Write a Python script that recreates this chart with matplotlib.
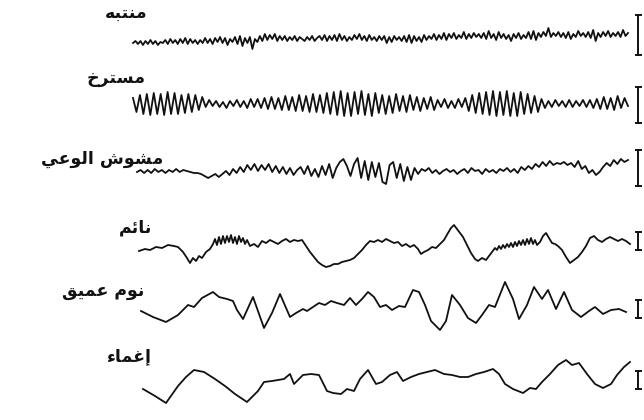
import numpy as np
import matplotlib
matplotlib.use('Agg')
import matplotlib.pyplot as plt

# EEG states, top to bottom
LABELS = ['منتبه', 'مسترخ', 'مشوش الوعي', 'نائم', 'نوم عميق', 'إغماء']

# alert: fast low-voltage activity
ALERT = [0, 2, -1, 2, -2, 2, -1, 3, -1, 2, -2, 1, 0, 3, -1, 4, 0, 3, -1, 4,
         0, 5, -1, 4, 0, 3, -1, 3, 0, 5, 0, 4, -1, 5, 1, 6, 0, 5, -2, 4,
         1, 6, -1, 7, -3, 5, 0, 6, -6, 4, 1, 7, 2, 9, 3, 8, 4, 9, 2, 7,
         3, 7, 2, 6, 3, 7, 2, 6, 4, 2, 6, 3, 7, 2, 5, 7, 3, 8, 2, 7,
         3, 8, 2, 9, 3, 7, 2, 6, 3, 8, 4, 9, 3, 7, 2, 8, 3, 6, 2, 7,
         3, 7, 0, 6, 1, 7, 3, 6, 2, 7, 1, 8, 0, 7, 2, 6, 1, 8, 3, 7,
         4, 9, 3, 8, 4, 10, 3, 9, 5, 10, 4, 8, 5, 11, 4, 9, 5, 10, 6, 9,
         5, 10, 4, 12, 5, 9, 3, 11, 5, 9, 4, 8, 2, 9, 5, 10, 4, 8, 5, 11,
         4, 12, 3, 10, 6, 11, 7, 15, 6, 10, 7, 11, 6, 10, 5, 11, 4, 9, 6, 12,
         7, 10, 6, 11, 5, 13, 2, 10, 6, 11, 7, 12, 6, 10, 7, 11, 6, 13, 7, 10]

# relaxed: alpha rhythm
RELAXED = [6, -8, 9, -10, 10, -11, 11, -10, 10, -11, 12, -10, 11, -10, 9, -9, 10, -8, 9, -6,
           7, -3, 4, -2,
           3, -3, 2, -4, 3, -2, 4, -3, 3, -4, 5, -3,
           5, -4, 6, -5, 7, -5, 6, -6, 8, -6, 7, -7, 9, -7, 8, -8, 10, -8, 9, -9,
           11, -10, 12, -11, 13, -12, 11, -12, 12, -10, 13, -11, 10, -12, 11, -9, 9, -10,
           8, -9, 10, -7, 8, -8, 9, -6, 7, -7, 6, -5, 7, -6,
           4, -3, 5, -4, 3, -4, 5, -3,
           6, -7, 9, -9, 11, -10, 12, -11, 13, -12, 12, -11, 13, -12, 11, -12, 12, -10, 10, -9, 8, -8,
           5, -4, 3, -3, 4, -2, 3, -3, 4, -3, 3, -2, 4, -3,
           4, -4, 5, -5, 7, -5, 6, -6, 8, -4, 6, -2]

# drowsy
DROWSY = [0, 2, -1, 2, -1, 3, 0, 2, -1, 2, 0, 3, 0, 2, 1,
          0, -1, -1, -2, -4, -6,
          -4, -2, -5, -2,
          1, -3, 3, -1, 5, 0, 7, 2, 8, 1,
          7, 2, 8, 0, 6, -1, 5, -2, 4, -3, 2,
          5, -2, 6, -4, 3, -5, 6, -3, 8, -6, 4,
          10, 13, 6, -4, 8, 14, -6, 11, -8, 10, -5, 9, -10,
          -12, 7, 10, -6, 8, -9, 5, -8, 4, -2,
          3, 1, 4, -1, 2, -2, 1, 3, 0, 2, -2, 1, 3, -1, 4, 1, 2, -2, 3, 0, 2, -1, 3,
          1, 4, 0, 3, -1, 5, 2, 6, 3, 8, 5, 10, 6, 11, 7, 9, 8,
          10, 7, 9, 5, 11, 3, 6, -1, 2, -3, 0,
          5, 9, 6, 12, 8, 13, 10, 12]

# asleep (time, amplitude)
SLEEP_T = [0, 6, 11, 17, 23, 29, 35, 39, 44, 48, 51, 54, 57, 60, 63, 67, 71, 74,
           76, 78, 80, 82, 84, 86, 88, 90, 92, 94, 96, 98, 100, 102, 104, 106, 108, 111,
           115, 119, 123, 127, 131, 135, 139, 143, 147, 151, 155, 159, 163, 167, 171, 175,
           179, 183, 187, 191, 195, 199, 203, 207, 211, 215, 219, 223, 227, 231, 235, 239,
           243, 247, 251, 255, 259, 263, 267, 271, 275, 279, 282, 285, 289, 293, 297, 301,
           305, 309, 312, 315, 318, 321, 324, 328, 332, 336, 339, 343, 347, 350,
           353, 356, 358, 360, 362, 364, 366, 368, 370, 372, 374, 376, 378, 380, 382, 384,
           386, 388, 390, 392, 394, 396, 398, 401, 404, 407, 410, 413, 416, 419, 423, 427,
           431, 435, 439, 443, 447, 451, 455, 459, 463, 467, 471, 475, 479, 483, 487, 491]
SLEEP_V = [-6, -4, -5, -2, -3, 0, -1, -2, -7, -13, -18, -13, -16, -11, -13, -7, -4, 1,
           6, 0, 8, 1, 9, 2, 9, 3, 10, 2, 8, 1, 9, 3, 7, 1, 5, -1,
           1, -2, 4, 2, 5, 3, 1, 4, 6, 3, 5, 4, 5, -1, -7, -12,
           -17, -20, -22, -21, -19, -19, -17, -16, -15, -13, -9, -5, 0, 4, 3, 5,
           3, 6, 4, 2, 3, -1, 1, -2, 0, -4, -9, -7, -5, -2, -3, 1,
           5, 12, 17, 20, 16, 12, 8, 0, -8, -14, -16, -13, -15, -11,
           -7, -3, -5, -1, -4, 0, -3, 1, -2, 2, -2, 3, -1, 4, 0, 5,
           0, 6, 1, 7, 1, 5, 0, 3, 9, 12, 7, 2, 1, -1, -5, -12,
           -18, -15, -12, -7, -1, 7, 9, 5, 3, 6, 8, 6, 4, 6, 4, 1]

# deep sleep
DEEP_T = [0, 12, 25, 37, 47, 53, 61, 72, 78, 86, 92, 96, 102, 112, 123, 131, 139, 149,
          155, 162, 166, 172, 178, 184, 190, 196, 203, 209, 215, 221, 227, 233, 239, 245,
          251, 258, 264, 272, 278, 284, 290, 299, 305, 311, 319, 327, 335, 341, 348, 354,
          364, 372, 378, 386, 393, 401, 407, 415, 423, 431, 440, 448, 454, 462, 470, 478, 485]
DEEP_V = [-6, -12, -17, -10, 0, -2, 7, 13, 8, 6, 4, -5, -14, 8, -23, -8, 11, -12,
          -8, -4, -6, -2, 2, 0, 4, 2, 0, 7, 0, 6, 13, 8, -2, 0,
          -5, -1, -2, 15, 13, 0, -16, -25, -16, 10, 0, -13, -18, -10, 0, -2,
          23, 6, -14, 0, 18, 6, 15, -4, 13, -5, -12, -6, -2, -9, -5, -4, -7]

# coma
COMA_T = [0, 12, 23, 35, 43, 51, 61, 72, 82, 92, 104, 115, 121, 129, 141, 147, 151, 160,
          168, 176, 184, 190, 198, 204, 211, 217, 225, 233, 239, 247, 254, 260, 268, 276,
          284, 292, 301, 309, 317, 325, 333, 341, 350, 356, 362, 370, 380, 387, 393, 399,
          407, 415, 423, 429, 436, 444, 452, 460, 468, 474, 481, 487]
COMA_V = [-4, -11, -18, -1, 8, 15, 13, 6, -1, -9, -17, -6, 3, 4, 6, 11, 1, 10,
          11, 10, -6, -8, -9, -4, -6, 6, 15, 1, 3, 10, 13, 4, 8, 11,
          13, 15, 11, 10, 8, 8, 11, 13, 16, 11, 1, -4, -8, -3, -4, 3,
          11, 20, 25, 20, 22, 11, 1, -3, 1, 10, 18, 23]

# calibration bar height for each channel
CAL = [40, 36, 36, 18, 18, 18]

FORMS = {
    'ا': ('\uFE8D', '\uFE8E'), 'إ': ('\uFE87', '\uFE88'), 'ء': ('\uFE80',),
    'ئ': ('\uFE89', '\uFE8A', '\uFE8B', '\uFE8C'), 'ب': ('\uFE8F', '\uFE90', '\uFE91', '\uFE92'),
    'ت': ('\uFE95', '\uFE96', '\uFE97', '\uFE98'), 'خ': ('\uFEA5', '\uFEA6', '\uFEA7', '\uFEA8'),
    'ر': ('\uFEAD', '\uFEAE'), 'س': ('\uFEB1', '\uFEB2', '\uFEB3', '\uFEB4'),
    'ش': ('\uFEB5', '\uFEB6', '\uFEB7', '\uFEB8'), 'ع': ('\uFEC9', '\uFECA', '\uFECB', '\uFECC'),
    'غ': ('\uFECD', '\uFECE', '\uFECF', '\uFED0'), 'ق': ('\uFED5', '\uFED6', '\uFED7', '\uFED8'),
    'ل': ('\uFEDD', '\uFEDE', '\uFEDF', '\uFEE0'), 'م': ('\uFEE1', '\uFEE2', '\uFEE3', '\uFEE4'),
    'ن': ('\uFEE5', '\uFEE6', '\uFEE7', '\uFEE8'), 'ه': ('\uFEE9', '\uFEEA', '\uFEEB', '\uFEEC'),
    'و': ('\uFEED', '\uFEEE'), 'ي': ('\uFEF1', '\uFEF2', '\uFEF3', '\uFEF4'),
}


def shape_arabic(word):
    # matplotlib has no arabic shaping, so pick contextual forms and reverse
    out = []
    for i, ch in enumerate(word):
        f = FORMS.get(ch)
        if f is None:
            out.append(ch)
            continue
        prev = FORMS.get(word[i - 1]) if i > 0 else None
        nxt = FORMS.get(word[i + 1]) if i + 1 < len(word) else None
        join_prev = prev is not None and len(prev) == 4 and len(f) >= 2
        join_next = nxt is not None and len(f) == 4 and len(nxt) >= 2
        if join_prev and join_next:
            out.append(f[3])
        elif join_prev:
            out.append(f[1])
        elif join_next:
            out.append(f[2])
        else:
            out.append(f[0])
    return ''.join(reversed(out))


fig = plt.figure(figsize=(6.44, 4.2), dpi=100)
ax = fig.add_axes([0, 0, 1, 1])
ax.set_xlim(0, 644)
ax.set_ylim(420, 0)
ax.axis('off')

INK = '#111111'

# (start x, baseline y) of each channel, label anchor, calibration bar centre
starts = [(133, 43), (133, 104), (137, 172), (139, 245), (141, 305), (143, 385)]
label_pos = [(148, 13), (146, 78), (163, 159), (152, 228), (144, 291), (152, 356)]
bar_mid = [35, 105, 168, 241, 309, 380]

traces = [
    (np.linspace(0, 495, len(ALERT)), np.array(ALERT)),
    (np.linspace(0, 495, len(RELAXED)), np.array(RELAXED)),
    (np.linspace(0, 491, len(DROWSY)), np.array(DROWSY)),
    (np.array(SLEEP_T), np.array(SLEEP_V)),
    (np.array(DEEP_T), np.array(DEEP_V)),
    (np.array(COMA_T), np.array(COMA_V)),
]

for (x0, y0), (t, v), cal, bm, lab, (lx, ly) in zip(starts, traces, CAL, bar_mid, LABELS, label_pos):
    ax.plot(x0 + t, y0 - v, color=INK, lw=1.3, solid_joinstyle='round')
    # calibration bar
    bx = 638
    top, bot = bm - cal / 2, bm + cal / 2
    ax.plot([bx, bx], [top, bot], color=INK, lw=1.4)
    ax.plot([bx - 2, bx + 3], [top, top], color=INK, lw=1.4)
    ax.plot([bx - 2, bx + 3], [bot, bot], color=INK, lw=1.4)
    ax.text(lx, ly, shape_arabic(lab), ha='right', va='center', fontsize=12.5,
            fontweight='bold', family='DejaVu Sans', color=INK)

fig.savefig('out.png', dpi=100, facecolor='white')
